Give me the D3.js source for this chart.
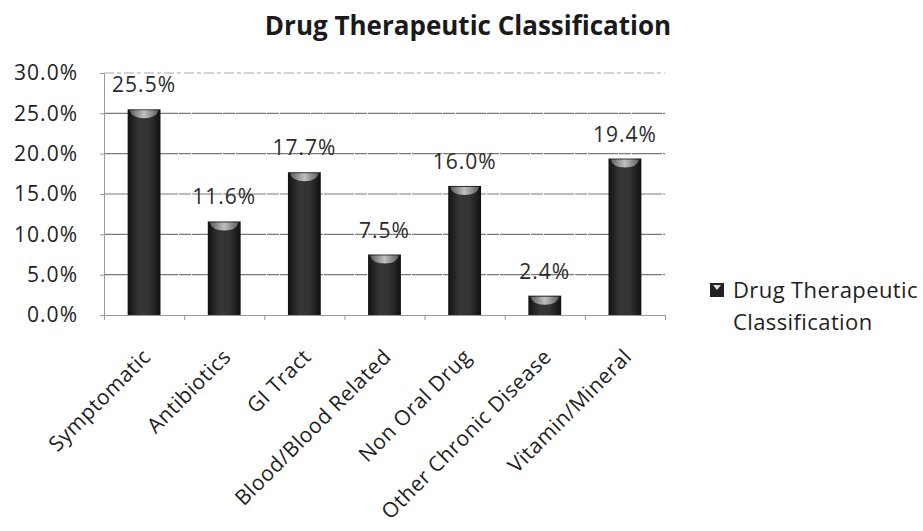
<!DOCTYPE html>
<html>
<head>
<meta charset="utf-8">
<script src="https://cdn.jsdelivr.net/npm/d3@7"></script>
<style>
  body { margin: 0; background: #fff; }
  svg text { font-family: "Open Sans", "Noto Sans", sans-serif; }
</style>
</head>
<body>
<svg id="chart" width="923" height="531"></svg>
<script>
// Share of prescriptions by drug therapeutic class (%)
const categories = ["Symptomatic", "Antibiotics", "GI Tract", "Blood/Blood Related",
                    "Non Oral Drug", "Other Chronic Disease", "Vitamin/Mineral"];
const values = [25.5, 11.6, 17.7, 7.5, 16.0, 2.4, 19.4];
const yTicks = [0, 5, 10, 15, 20, 25, 30];
const seriesName = ["Drug Therapeutic", "Classification"];
const chartTitle = "Drug Therapeutic Classification";

const svg = d3.select("#chart");
const margin = { left: 104, right: 258, top: 73, bottom: 216 };
const W = 923, H = 531;

const x = d3.scaleBand().domain(categories).range([margin.left, W - margin.right])
  .paddingInner(0.59).paddingOuter(0.295);
const y = d3.scaleLinear().domain([0, 30]).range([H - margin.bottom, margin.top]);

// bar gradient: dark cylinder look
const defs = svg.append("defs");
const grad = defs.append("linearGradient").attr("id", "barGrad").attr("x1", "0").attr("x2", "1");
grad.append("stop").attr("offset", "0%").attr("stop-color", "#121212");
grad.append("stop").attr("offset", "35%").attr("stop-color", "#363636");
grad.append("stop").attr("offset", "65%").attr("stop-color", "#333");
grad.append("stop").attr("offset", "100%").attr("stop-color", "#111");
const capGrad = defs.append("linearGradient").attr("id", "capGrad").attr("x1", "0").attr("x2", "1");
capGrad.append("stop").attr("offset", "0%").attr("stop-color", "#666");
capGrad.append("stop").attr("offset", "50%").attr("stop-color", "#d8d8d8");
capGrad.append("stop").attr("offset", "100%").attr("stop-color", "#666");

// title
svg.append("text").attr("x", 468).attr("y", 35).attr("text-anchor", "middle")
  .attr("font-size", 26).attr("font-weight", "bold").attr("fill", "#1a1a1a").text(chartTitle);

// gridlines
svg.append("g").selectAll("line").data(yTicks.filter(d => d > 0)).join("line")
  .attr("x1", margin.left).attr("x2", W - margin.right)
  .attr("y1", d => y(d)).attr("y2", d => y(d))
  .attr("stroke", d => d === 30 ? "#aaa" : "#7a7a7a").attr("stroke-width", 1.2)
  .attr("stroke-dasharray", d => d === 30 ? "10,3,4,3" : "30,1,12,1");

// y axis
const yAxis = d3.axisLeft(y).tickValues(yTicks).tickFormat(d => d.toFixed(1) + "%")
  .tickSize(4).tickPadding(22);
const gy = svg.append("g").attr("transform", `translate(${margin.left},0)`).call(yAxis);
gy.select(".domain").attr("stroke", "#999");
gy.selectAll(".tick line").attr("stroke", "#999");
gy.selectAll("text").attr("font-size", 21).attr("letter-spacing", 1).attr("fill", "#1e1e1e");

// bars
const bw = x.bandwidth();
svg.append("g").selectAll("rect").data(values).join("rect")
  .attr("x", (d, i) => x(categories[i])).attr("y", d => y(d))
  .attr("width", bw).attr("height", d => y(0) - y(d))
  .attr("fill", "url(#barGrad)");
// light top caps
svg.append("g").selectAll("path").data(values).join("path")
  .attr("d", (d, i) => {
    const x0 = x(categories[i]), t = y(d);
    return `M${x0 + 2},${t + 1} L${x0 + bw - 2},${t + 1} Q${x0 + bw - 4},${t + 9} ${x0 + bw / 2},${t + 9} Q${x0 + 4},${t + 9} ${x0 + 2},${t + 1} Z`;
  })
  .attr("fill", "url(#capGrad)").attr("opacity", 0.85);

// x axis
const xAxis = d3.axisBottom(d3.scaleLinear().domain([0, 7]).range([margin.left, W - margin.right]))
  .ticks(7).tickFormat("").tickSize(5);
const gx = svg.append("g").attr("transform", `translate(0,${y(0)})`).call(xAxis);
gx.select(".domain").attr("stroke", "#999");
gx.selectAll(".tick line").attr("stroke", "#999");

// category labels, rotated
svg.append("g").selectAll("text").data(categories).join("text")
  .attr("transform", d => `translate(${x(d) + bw / 2 + 8},${y(0) + 43}) rotate(-45)`)
  .attr("text-anchor", "end").attr("font-size", 21).attr("letter-spacing", 0.5)
  .attr("fill", "#1e1e1e").text(d => d);

// value labels
svg.append("g").selectAll("text").data(values).join("text")
  .attr("x", (d, i) => x(categories[i]) + bw / 2).attr("y", d => y(d) - 17)
  .attr("text-anchor", "middle").attr("font-size", 21).attr("letter-spacing", 1).attr("fill", "#2a2a2a")
  .text(d => d.toFixed(1) + "%");

// legend
const lg = svg.append("g").attr("transform", "translate(710,283)");
lg.append("rect").attr("width", 14).attr("height", 14).attr("fill", "#222");
lg.append("path").attr("d", "M3,2 L11,2 L7,7 Z").attr("fill", "#ddd");
lg.selectAll("text").data(seriesName).join("text")
  .attr("x", 23).attr("y", (d, i) => 15 + i * 32)
  .attr("font-size", 22).attr("letter-spacing", 0.4).attr("fill", "#1e1e1e").text(d => d);
</script>
</body>
</html>
